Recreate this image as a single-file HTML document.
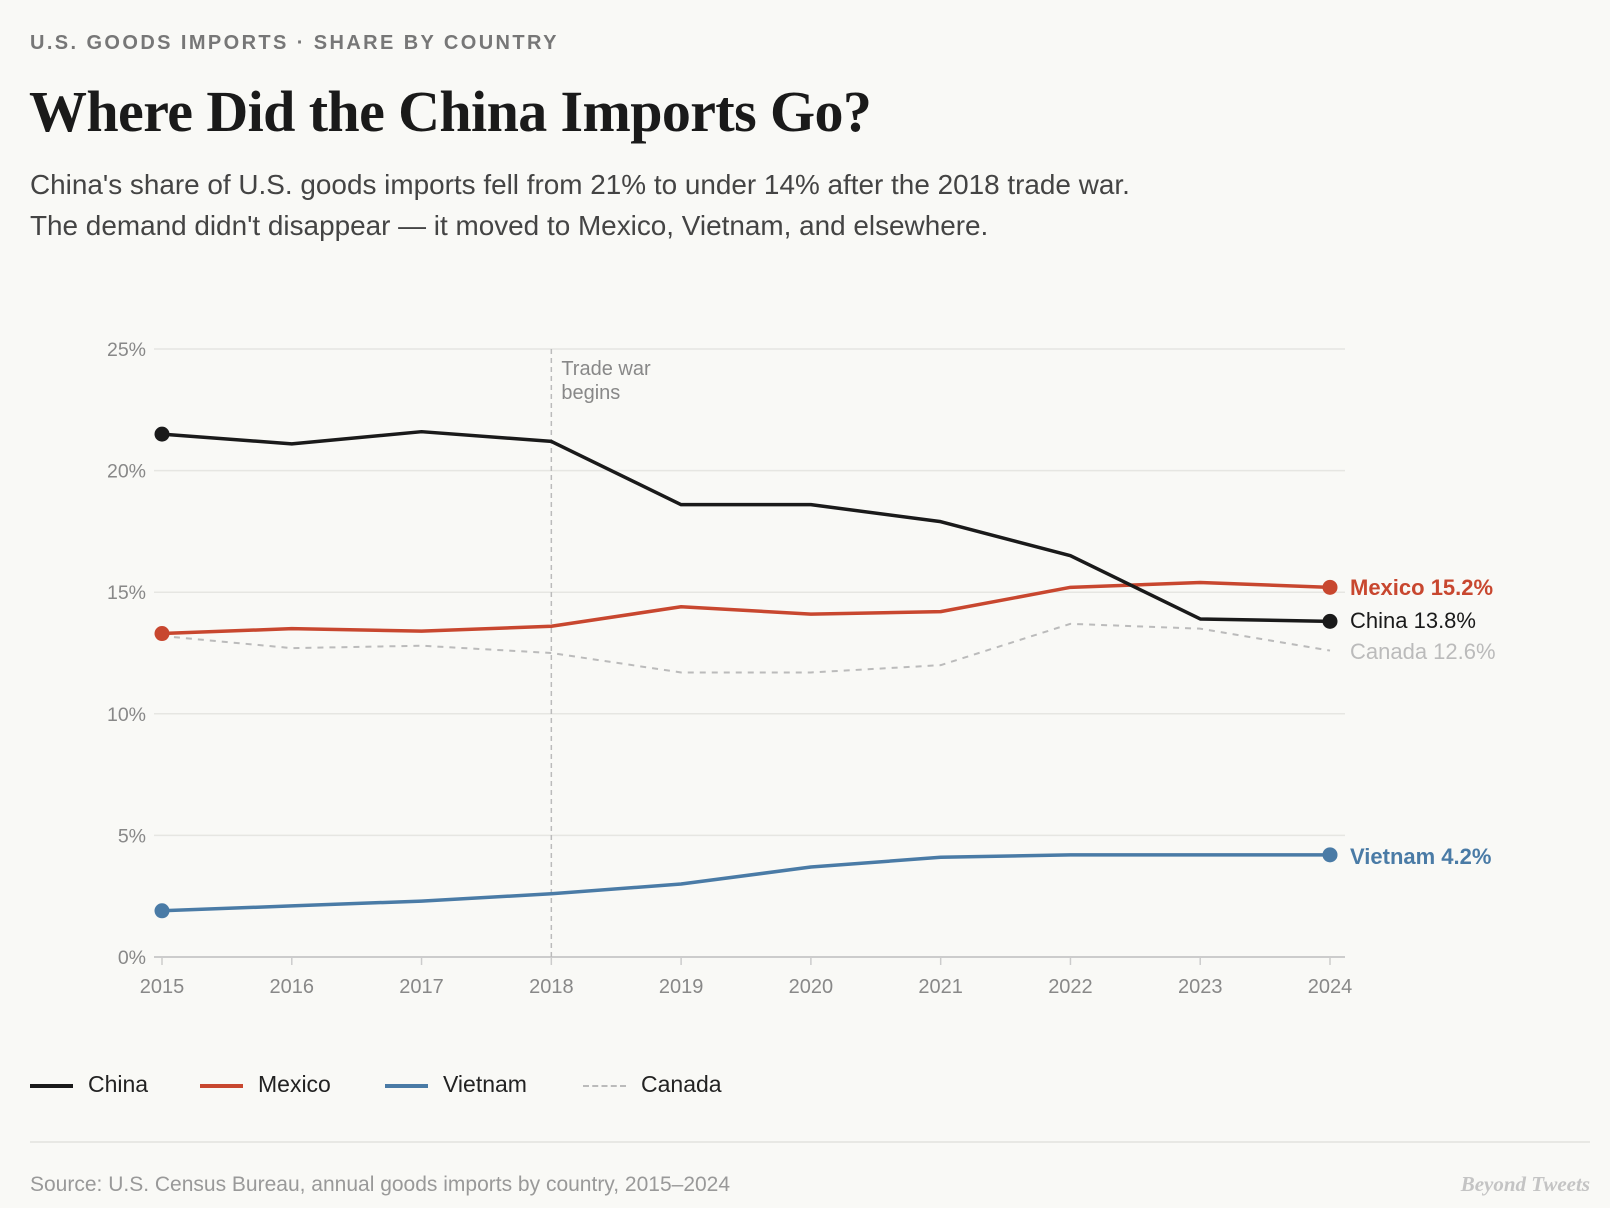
<!DOCTYPE html>
<html><head><meta charset="utf-8"><style>
body{margin:0;width:1610px;height:1208px;background:#f9f9f6;font-family:"Liberation Sans",sans-serif;overflow:hidden;position:relative}
.a{position:absolute;white-space:nowrap}
</style></head><body>
<div class="a" style="left:30px;top:32px;font-size:20px;font-weight:bold;letter-spacing:2.4px;color:#777">U.S. GOODS IMPORTS · SHARE BY COUNTRY</div>
<div class="a" style="left:29px;top:78px;font-family:'Liberation Serif',serif;font-weight:bold;font-size:58px;letter-spacing:-0.6px;color:#1a1a1a">Where Did the China Imports Go?</div>
<div class="a" style="left:30px;top:164px;font-size:27.9px;line-height:41px;color:#444">China's share of U.S. goods imports fell from 21% to under 14% after the 2018 trade war.<br>The demand didn't disappear — it moved to Mexico, Vietnam, and elsewhere.</div>
<svg class="a" style="left:0;top:0" width="1610" height="1208">
<g id="g"></g>
</svg>
<div class="a" style="left:0;top:1071px;font-size:23px;color:#222">
<div class="a" style="left:30px"><span style="display:inline-block;width:43px;height:4px;background:#1a1a1a;vertical-align:middle;margin-right:15px"></span>China</div>
<div class="a" style="left:200px"><span style="display:inline-block;width:43px;height:4px;background:#c8472f;vertical-align:middle;margin-right:15px"></span>Mexico</div>
<div class="a" style="left:385px"><span style="display:inline-block;width:43px;height:4px;background:#4a7ba6;vertical-align:middle;margin-right:15px"></span>Vietnam</div>
<div class="a" style="left:583px"><span style="display:inline-block;width:43px;border-top:2px dashed #bbb;vertical-align:middle;margin-right:15px"></span>Canada</div>
</div>
<div class="a" style="left:30px;top:1141px;width:1560px;height:2px;background:#e8e8e4"></div>
<div class="a" style="left:30px;top:1173px;font-size:21px;color:#999">Source: U.S. Census Bureau, annual goods imports by country, 2015–2024</div>
<div class="a" style="right:20px;top:1172px;font-family:'Liberation Serif',serif;font-style:italic;font-weight:bold;font-size:21px;color:#c4c4c4">Beyond Tweets</div>
<script>
const years=[2015,2016,2017,2018,2019,2020,2021,2022,2023,2024];
const china=[21.5,21.1,21.6,21.2,18.6,18.6,17.9,16.5,13.9,13.8];
const mexico=[13.3,13.5,13.4,13.6,14.4,14.1,14.2,15.2,15.4,15.2];
const vietnam=[1.9,2.1,2.3,2.6,3.0,3.7,4.1,4.2,4.2,4.2];
const canada=[13.2,12.7,12.8,12.5,11.7,11.7,12.0,13.7,13.5,12.6];
const yTicks=[0,5,10,15,20,25];
const NS="http://www.w3.org/2000/svg",g=document.getElementById('g');
const x=i=>162+(1330-162)*i/(years.length-1);
const y=v=>957-(957-349)*v/25;
function el(t,a){const e=document.createElementNS(NS,t);for(const k in a)e.setAttribute(k,a[k]);g.appendChild(e);return e;}
yTicks.forEach(t=>{
 const l=el('line',{x1:154,x2:1345,y1:y(t),y2:y(t),stroke:t?'#e6e6e2':'#ccc','stroke-width':t?1.5:2});
 
 
 const tx=el('text',{x:146,y:y(t)+7,'text-anchor':'end','font-size':19.5,fill:'#888','font-family':'Liberation Sans'});tx.textContent=t+'%';
 
 
});
years.forEach((yr,i)=>{
 const l=el('line',{x1:x(i),x2:x(i),y1:957,y2:965,stroke:'#ccc','stroke-width':1.5});
 
 
 const tx=el('text',{x:x(i),y:993,'text-anchor':'middle','font-size':20,fill:'#888','font-family':'Liberation Sans'});tx.textContent=yr;
 
 
});
const tw=el('line',{x1:x(3),x2:x(3),y1:349,y2:957,stroke:'#bbb','stroke-width':1.5,'stroke-dasharray':'5,4'});


['Trade war','begins'].forEach((s,k)=>{const t=el('text',{x:x(3)+10,y:375+k*24,'font-size':20,fill:'#888','font-family':'Liberation Sans'});t.textContent=s;
 
 });
const series=[[canada,'#bbb','Canada','canada',2,'6,6'],[vietnam,'#4a7ba6','Vietnam','vietnam',3.5,null],[mexico,'#c8472f','Mexico','mexico',3.5,null],[china,'#1a1a1a','China','china',3.5,null]];
const labelY={china:628,mexico:595,canada:659,vietnam:864};
series.forEach(([d,c,n,id,w,da])=>{
 const p=el('polyline',{points:d.map((v,i)=>x(i)+','+y(v)).join(' '),fill:'none',stroke:c,'stroke-width':w,'stroke-linejoin':'round'});
 if(da)p.setAttribute('stroke-dasharray',da);
 
 
 if(!da){[0,d.length-1].forEach(i=>{const ci=el('circle',{cx:x(i),cy:y(d[i]),r:7.5,fill:c});
  
  });}
 const t=el('text',{x:1350,y:labelY[id],'font-size':22,fill:c,'font-family':'Liberation Sans','font-weight':(id==='mexico'||id==='vietnam')?'bold':'normal'});
 t.textContent=n+' '+d[d.length-1].toFixed(1)+'%';
 
 
});
</script>
</body></html>
